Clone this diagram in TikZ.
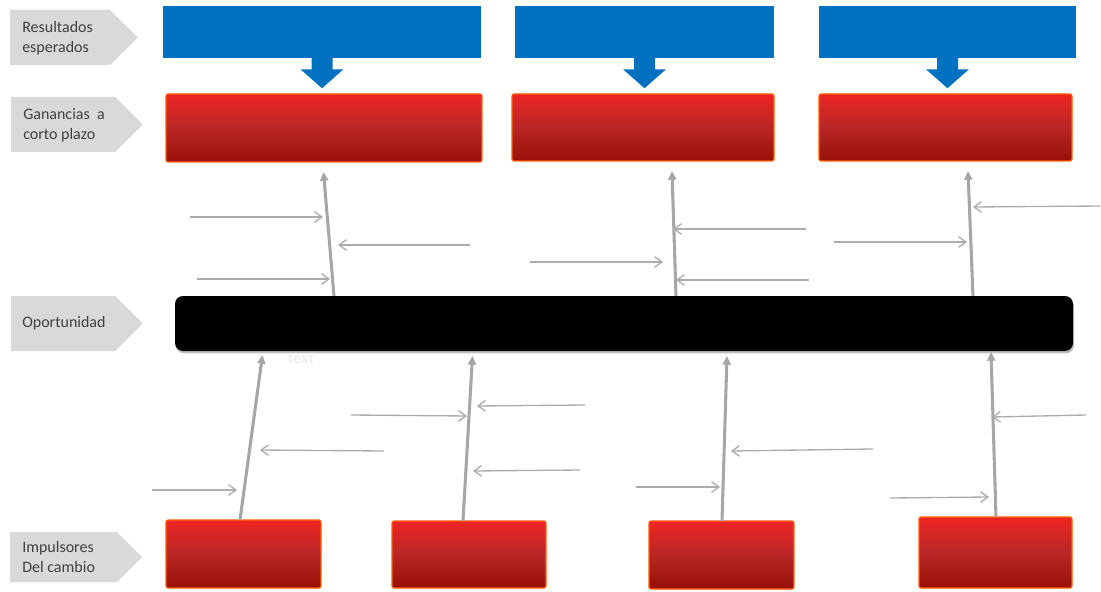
\documentclass[tikz,border=0pt]{standalone}
\usepackage{fontspec}
\setmainfont{Carlito}
\usetikzlibrary{arrows.meta,shadows,calc}
\definecolor{bluec}{RGB}{0,112,192}
\definecolor{redtop}{RGB}{238,37,36}
\definecolor{redmid}{RGB}{184,38,38}
\definecolor{redbot}{RGB}{152,16,6}
\definecolor{redline}{RGB}{255,96,0}
\definecolor{labgray}{RGB}{217,217,217}
\definecolor{spinegray}{RGB}{166,166,166}
\definecolor{twiggray}{RGB}{172,172,172}
\definecolor{labtext}{RGB}{64,64,64}
\tikzset{
  sz/.style 2 args={minimum width=#1*0.75pt, minimum height=#2*0.75pt, inner sep=0pt},
  redbox/.style={draw=redline, line width=0.8pt, rounded corners=1.5pt,
    top color=redtop, bottom color=redbot, middle color=redmid},
  bluebox/.style={fill=bluec},
  barbox/.style={fill=black, rounded corners=6pt,
    drop shadow={shadow xshift=0.8pt, shadow yshift=-1.8pt, opacity=0.5}},
  labtxt/.style={anchor=west, align=left, inner sep=0pt, text=labtext,
    font=\fontsize{12}{15}\selectfont},
  spine/.style={draw=spinegray, line width=2.3pt, -{Triangle[length=6.5pt,width=6pt]}},
  twig/.style={draw=twiggray, line width=1pt, -{Straight Barb[length=5.5pt,width=8pt]}},
}
\begin{document}
\begin{tikzpicture}[x=0.75pt,y=-0.75pt]
\useasboundingbox (0,0) rectangle (1101,592);

% left labels
\fill[labgray] (10,10) -- (110,10) -- (138,37.5) -- (110,65) -- (10,65) -- cycle;
\fill[labgray] (11,97) -- (115,97) -- (143,124.5) -- (115,152) -- (11,152) -- cycle;
\fill[labgray] (11,296) -- (115,296) -- (143,323.5) -- (115,351) -- (11,351) -- cycle;
\fill[labgray] (10,532) -- (117,532) -- (142,557) -- (117,582) -- (10,582) -- cycle;
\node[labtxt] (l1) at (22,38) {Resultados\\esperados};
\node[labtxt] (l2) at (23,125) {Ganancias\ \ a\\corto plazo};
\node[labtxt] (l3) at (22,323.5) {Oportunidad};
\node[labtxt] (l4) at (22,557) {Impulsores\\Del cambio};

% blue boxes
\node[bluebox, sz={318}{52}] (b1) at (322,32) {};
\node[bluebox, sz={259}{52}] (b2) at (644.5,32) {};
\node[bluebox, sz={257}{52}] (b3) at (947.5,32) {};
\foreach \b in {b1,b2,b3}{
  \fill[bluec] ($(\b.south)+(-10.5,-1)$) -- ++(0,12) -- ++(-11,0) -- ++(21.5,19)
    -- ++(21.5,-19) -- ++(-11,0) -- ++(0,-12) -- cycle;
}

% top red boxes
\node[redbox, sz={316}{68}] (r1) at (324,128) {};
\node[redbox, sz={262}{67}] (r2) at (643,127.5) {};
\node[redbox, sz={253}{67}] (r3) at (945.5,127.5) {};

% bottom red boxes
\node[redbox, sz={155}{68}] (d1) at (243.5,554) {};
\node[redbox, sz={154}{67}] (d2) at (469,554.5) {};
\node[redbox, sz={145}{68}] (d3) at (721.5,555) {};
\node[redbox, sz={153}{71}] (d4) at (995.5,552.5) {};

% spines (top)
\coordinate (ts1) at (334,296); \coordinate (te1) at (323.5,172);
\coordinate (ts2) at (676,296); \coordinate (te2) at (672,171);
\coordinate (ts3) at (973,296); \coordinate (te3) at (968,171);
\foreach \i in {1,2,3}{ \draw[spine] (ts\i) -- (te\i); }

% spines (bottom)
\coordinate (bs1) at (240,520); \coordinate (be1) at (262.5,355);
\coordinate (bs2) at (463,521); \coordinate (be2) at (472.5,356);
\coordinate (bs3) at (722,521); \coordinate (be3) at (727,356);
\coordinate (bs4) at (996,517); \coordinate (be4) at (991,352);
\foreach \i in {1,2,3,4}{ \draw[spine] (bs\i) -- (be\i); }

% black bar
\node[barbox, sz={898}{55}] (bar) at (624,323.5) {};
\node[text=black!7, inner sep=0pt, font=\fontsize{12}{14}\selectfont\bfseries] (txt) at (301,359) {text};

% twigs
\foreach \n/\ax/\ay/\bx/\by in {
  a1/190/217/323/217, a2/470/245/338/245, a3/197/279/330/279,
  a4/806/229/673/229, a5/530/262/663/262, a6/809/280/676/280,
  a7/1100/206/973/207, a8/834/242/967/242,
  c1/384/451/260/450, c2/152/490/237/490,
  c3/351/415/467/416, c4/585/405/477/406, c5/580/470/473/471,
  c6/873/449/731/451, c7/636/487/720/487,
  c8/1086/415/992/417, c9/890/498/989/497}{
  \coordinate (\n s) at (\ax,\ay);
  \coordinate (\n e) at (\bx,\by);
  \draw[twig] (\n s) -- (\n e);
}
\end{tikzpicture}
\end{document}
